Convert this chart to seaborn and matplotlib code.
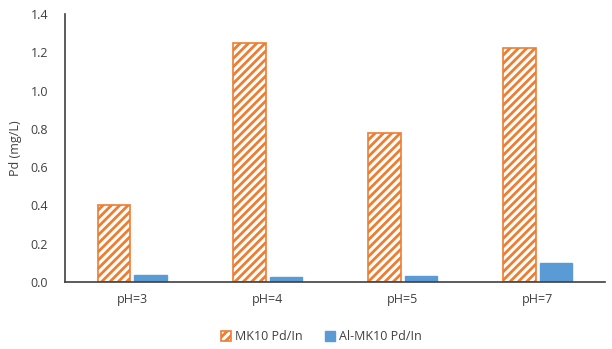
import matplotlib
matplotlib.use("Agg")
import matplotlib.pyplot as plt
import seaborn as sns
import pandas as pd
from matplotlib.patches import Patch

categories = ["pH=3", "pH=4", "pH=5", "pH=7"]
series_names = ["MK10 Pd/In", "Al-MK10 Pd/In"]
mk10 = [0.40, 1.25, 0.78, 1.22]
al_mk10 = [0.035, 0.025, 0.03, 0.10]
yticks = [0.0, 0.2, 0.4, 0.6, 0.8, 1.0, 1.2, 1.4]

df = pd.DataFrame({
    "cat": categories * 2,
    "series": [series_names[0]] * 4 + [series_names[1]] * 4,
    "value": mk10 + al_mk10,
})

sns.set_style("white")
plt.rcParams["font.family"] = ["Open Sans", "DejaVu Sans"]
plt.rcParams["hatch.linewidth"] = 2.0

orange = "#ED7D31"
blue = "#5B9BD5"

fig = plt.figure(figsize=(6.12, 3.49), dpi=100)
ax = fig.add_axes([0.106, 0.192, 0.883, 0.768])
sns.barplot(data=df, x="cat", y="value", hue="series", order=categories,
            hue_order=series_names, palette=[orange, blue], width=0.54,
            gap=0.11, ax=ax, legend=False, saturation=1)

for bar in ax.containers[0]:
    bar.set_facecolor("white")
    bar.set_edgecolor(orange)
    bar.set_hatch("////")
    bar.set_linewidth(1.2)
for bar in ax.containers[1]:
    bar.set_facecolor(blue)
    bar.set_edgecolor(blue)

ax.set_ylim(0, 1.4)
ax.set_yticks(yticks)
ax.set_yticklabels([f"{v:.1f}" for v in yticks], fontsize=9, color="#404040")
ax.tick_params(axis="x", labelsize=9, labelcolor="#404040", length=0, pad=8)
ax.tick_params(axis="y", length=0, pad=12)
ax.set_xlabel("")
ax.set_ylabel("Pd (mg/L)", fontsize=9, color="#404040", labelpad=6)
for s in ["top", "right"]:
    ax.spines[s].set_visible(False)
ax.spines["left"].set_color("#404040")
ax.spines["bottom"].set_color("#404040")
ax.spines["left"].set_linewidth(1.2)
ax.spines["bottom"].set_linewidth(1.2)

handles = [
    Patch(facecolor="white", edgecolor=orange, hatch="////", linewidth=1.2, label=series_names[0]),
    Patch(facecolor=blue, edgecolor=blue, label=series_names[1]),
]
fig.legend(handles=handles, loc="center", bbox_to_anchor=(0.525, 0.035), ncol=2,
           frameon=False, fontsize=9, handlelength=0.8, handleheight=0.8,
           handletextpad=0.3, columnspacing=1.8, labelcolor="#404040")

fig.savefig("out.png", dpi=100)
